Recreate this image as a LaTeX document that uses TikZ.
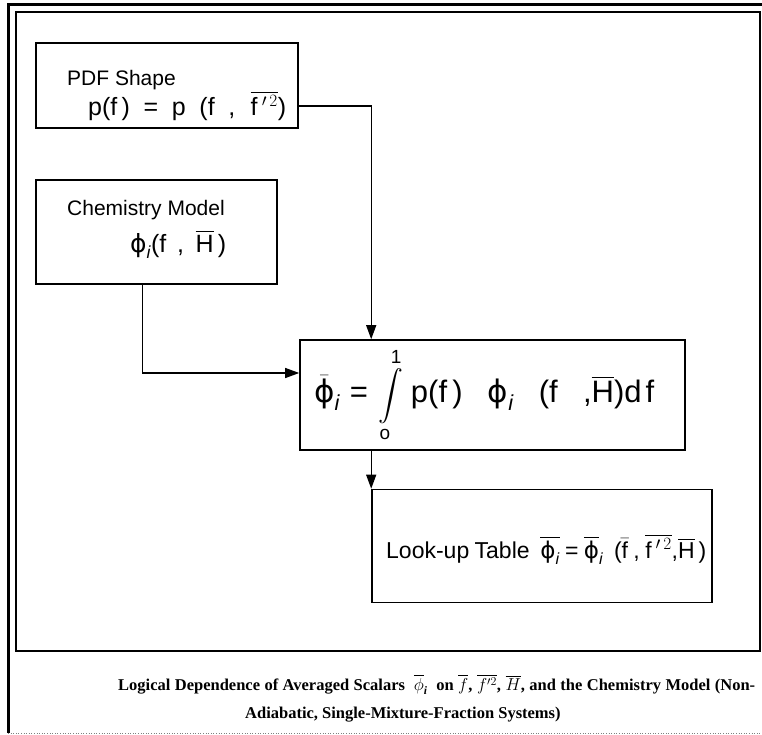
\documentclass[tikz,border=0pt]{standalone}
\usepackage{amsmath}
\usepackage{fontspec}
\setmainfont{Liberation Sans}
\newfontfamily\capfont{Liberation Serif}
\newfontfamily\grkfont{DejaVu Sans}
\usetikzlibrary{arrows.meta}

\newcommand{\phisym}{\mbox{\grkfont ϕ}}
\newcommand{\isub}{_{\textit{i}}}

\tikzset{
  box/.style={draw, line width=1.6pt, inner sep=0pt},
  arr/.style={line width=1.2pt, -{Triangle[length=14pt,width=10pt]}},
  boxtext/.style={font=\fontsize{21}{25}\selectfont, inner sep=0pt},
  eqtext/.style={font=\fontsize{25}{29}\selectfont, inner sep=0pt},
  captext/.style={font=\capfont\fontsize{16.5}{19}\selectfont\bfseries, inner sep=0pt}
}

\begin{document}
\begin{tikzpicture}[x=1pt,y=-1pt]
		\useasboundingbox (0,0) rectangle (762,734);
		\draw[line width=3pt] (775,4) -- (8,4) -- (8,733);
		\draw[line width=0.6pt, dotted, gray] (8,733) -- (775,733);
		\draw[line width=2pt] (16,12) rectangle (760,651);
		
		\node[box, minimum width=262pt, minimum height=85pt] (pdf) at (167,85.5){};
		\node[box, minimum width=241pt, minimum height=104pt] (chem) at (156.5,232){};
		\node[box, minimum width=385pt, minimum height=110pt] (integ) at (492.5,395){};
		\node[box, minimum width=340pt, minimum height=113pt] (lookup) at (542,546){};
		
		% box texts
		\node[boxtext, anchor=west] (pdftitle) at (67,80){PDF Shape};
		\node[eqtext, anchor=west] (pdfeq) at (88,106)
			{\makebox[198pt][s]{p(f\,) = p (f , $\overline{\mbox{f\,${}^{\prime\,2}$}}$)}};
		\node[boxtext, anchor=west] (chemtitle) at (67,210){Chemistry Model};
		\node[eqtext, anchor=west] (chemeq) at (130,244)
			{\makebox[96pt][s]{$\phisym\isub$(f , $\overline{\mbox{H}}$\,)}};
		\node[eqtext, font=\fontsize{31}{35}\selectfont, anchor=west] (integeq) at (314,395)
			{\makebox[340pt][s]{$\bar{\phisym}\isub$\hspace{10pt}=\hspace{10pt}$\displaystyle\int\limits_{\mbox{\fontsize{19}{21}\selectfont o}}^{\mbox{\fontsize{19}{21}\selectfont 1}}$\hspace{8pt}p(f\,) $\phisym\isub$ (f ,$\overline{\mbox{H}}$)d\hspace{4pt}f}};
		\node[eqtext, font=\fontsize{23}{27}\selectfont, anchor=west] (lookeq) at (386,549)
			{\makebox[320pt][s]{Look-up Table \ $\overline{\phisym\isub}$ = $\overline{\phisym}\isub$ \ ($\bar{\mbox{f}}$ , $\overline{\mbox{f\,${}^{\prime\,2}$}}$,$\overline{\mbox{H}}$\,)}};
		
		% connectors
		\draw[arr] (pdf.east |- pdfeq) -| ([xshift=72pt]integ.north west);
		\draw[arr] ([xshift=107pt]chem.south west) |- ([yshift=22pt]integ.west);
		\draw[arr] ([xshift=72pt]integ.south west) -- ([xshift=72pt]integ.south west |- lookup.north);
		
		% caption
		\node[captext, anchor=west] (cap1) at (118,684)
			{\makebox[637pt][s]{Logical Dependence of Averaged Scalars \ $\overline{\phi}\isub$ \ on $\overline{f}$, $\overline{f'^2}$, $\overline{H}$, and the Chemistry Model (Non-}};
		\node[captext, anchor=west] (cap2) at (245,715){Adiabatic, Single-Mixture-Fraction Systems)};
	\end{tikzpicture}
\end{document}
